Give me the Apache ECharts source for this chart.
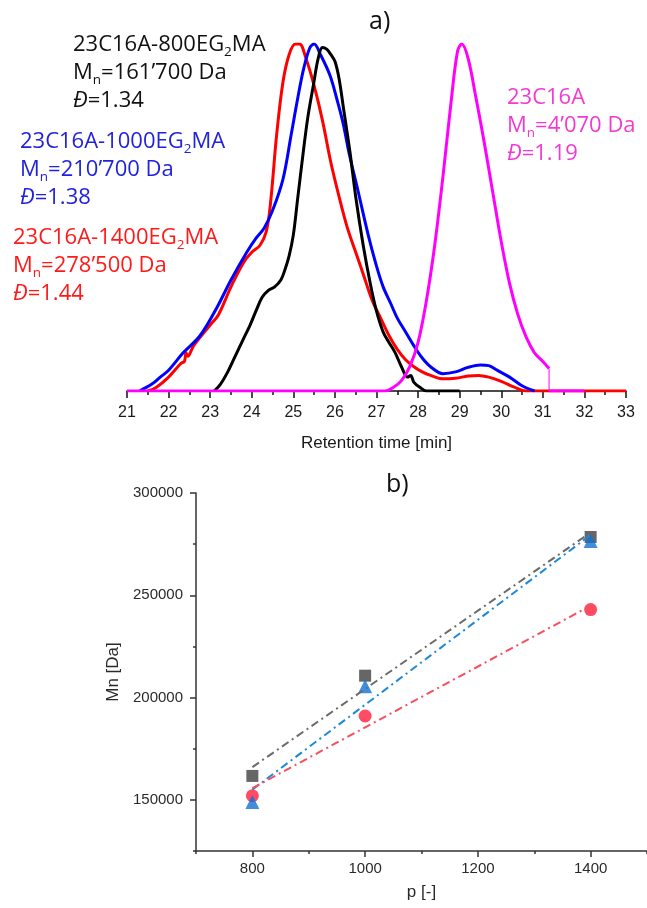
<!DOCTYPE html>
<html>
<head>
<meta charset="utf-8">
<script src="https://cdn.jsdelivr.net/npm/echarts@6/dist/echarts.min.js"></script>
<style>html,body{margin:0;padding:0;background:#fff}#c{width:647px;height:908px}</style>
</head>
<body>
<div id="c"></div>
<script>
// ---- (a) GPC traces: [retention time (min), normalized intensity] ----
const trace800 = [[23.1,0],[23.25,0.02],[23.4,0.05],[23.6,0.10],[23.8,0.15],[23.96,0.19],[24.1,0.23],[24.25,0.27],[24.4,0.29],[24.55,0.30],[24.7,0.32],[24.8,0.35],[24.9,0.39],[25.0,0.45],[25.1,0.55],[25.24,0.69],[25.35,0.79],[25.48,0.88],[25.6,0.96],[25.7,0.99],[25.8,0.985],[25.9,0.97],[26.0,0.95],[26.1,0.90],[26.2,0.82],[26.36,0.69],[26.5,0.56],[26.68,0.42],[26.85,0.31],[27.0,0.23],[27.16,0.17],[27.3,0.14],[27.45,0.11],[27.6,0.07],[27.75,0.04],[27.82,0.045],[27.9,0.025],[28.05,0.01],[28.2,0],[29.0,0]];
const trace1000 = [[21.3,0],[21.6,0.02],[21.8,0.04],[22.0,0.06],[22.35,0.11],[22.76,0.16],[23.16,0.24],[23.5,0.32],[23.88,0.40],[24.1,0.44],[24.3,0.47],[24.5,0.52],[24.75,0.61],[24.95,0.74],[25.1,0.84],[25.25,0.93],[25.4,0.99],[25.5,1.0],[25.65,0.97],[25.88,0.91],[26.05,0.84],[26.2,0.77],[26.35,0.68],[26.53,0.59],[26.8,0.45],[27.0,0.36],[27.16,0.30],[27.35,0.25],[27.5,0.21],[27.7,0.17],[27.9,0.13],[28.1,0.095],[28.3,0.07],[28.6,0.05],[28.9,0.055],[29.2,0.068],[29.5,0.075],[29.7,0.073],[29.9,0.06],[30.2,0.04],[30.5,0.015],[30.8,0]];
const trace1400 = [[21.5,0],[21.7,0.01],[22.0,0.04],[22.3,0.08],[22.38,0.085],[22.42,0.11],[22.46,0.10],[22.6,0.13],[23.0,0.19],[23.2,0.22],[23.5,0.30],[23.8,0.37],[24.0,0.40],[24.2,0.42],[24.35,0.46],[24.45,0.54],[24.6,0.74],[24.75,0.89],[24.9,0.97],[25.05,1.0],[25.15,1.0],[25.3,0.96],[25.5,0.88],[25.7,0.78],[25.9,0.66],[26.1,0.56],[26.3,0.47],[26.5,0.40],[26.7,0.33],[26.9,0.26],[27.1,0.21],[27.3,0.16],[27.5,0.12],[27.7,0.09],[27.9,0.07],[28.1,0.055],[28.3,0.045],[28.6,0.035],[28.9,0.037],[29.2,0.043],[29.45,0.045],[29.7,0.04],[30.0,0.028],[30.3,0.012],[30.6,0],[33.0,0]];
const traceMacro = [[21.0,0],[27.2,0],[27.4,0.01],[27.6,0.03],[27.8,0.07],[28.0,0.14],[28.2,0.26],[28.4,0.42],[28.6,0.62],[28.8,0.84],[28.95,0.98],[29.05,1.0],[29.2,0.96],[29.4,0.84],[29.6,0.71],[29.8,0.57],[30.0,0.43],[30.2,0.31],[30.4,0.22],[30.6,0.155],[30.8,0.11],[31.0,0.085],[31.15,0.065]];
const traceMacroDrop = [[31.15,0.065],[31.15,0]];
const traceMacroTail = [[31.15,0],[32.0,0]];

// ---- (b) Mn vs p ----
const pValues = [800, 1000, 1400];
const mnSquares = [161700, 210700, 278500];
const mnTriangles = [149000, 205500, 276500];
const mnCircles = [152000, 191000, 243000];
const fitSquares = [[800,166000],[1400,280700]];
const fitTriangles = [[800,155000],[1400,279500]];
const fitCircles = [[800,155700],[1400,244900]];
const pTicks = [800, 1000, 1200, 1400];
const mnTicks = [150000, 200000, 250000, 300000];

const pair = (xs, ys) => xs.map((x, i) => [x, ys[i]]);

const ANN = 'Open Sans';
function richFor(color) {
  return {
    t: {fontSize: 22, lineHeight: 28, fontFamily: ANN, fontWeight: 'normal', color: color},
    s: {fontSize: 13.5, lineHeight: 14, fontFamily: ANN, fontWeight: 'normal', color: color, verticalAlign: 'bottom'},
    i: {fontSize: 22, lineHeight: 28, fontFamily: ANN, fontWeight: 'normal', color: color, fontStyle: 'italic'}
  };
}
function ann(left, top, color, l1a, l1b, mn, d) {
  const txt = (l1b !== null ? '{t|' + l1a + '}{s|2}{t|' + l1b + '}' : '{t|' + l1a + '}') +
    '\n{t|M}{s|n}{t|=' + mn + '}\n{i|Đ}{t|=' + d + '}';
  return {left: left, top: top, padding: 0, text: txt,
          textStyle: {fontWeight: 'normal', rich: richFor(color)}};
}

const chart = echarts.init(document.getElementById('c'), null, {renderer: 'canvas'});
const AX = 'Liberation Sans';
const smoothLine = (data, color, width) => ({type: 'line', xAxisIndex: 0, yAxisIndex: 0, data: data, symbol: 'none',
  smooth: 0.35, lineStyle: {color: color, width: width}});
chart.setOption({
  animation: false,
  backgroundColor: '#fff',
  title: [
    ann(73, 31, '#111111', '23C16A-800EG', 'MA', '161’700 Da', '1.34'),
    ann(20, 128, '#2222dd', '23C16A-1000EG', 'MA', '210’700 Da', '1.38'),
    ann(13, 224, '#ff1a1a', '23C16A-1400EG', 'MA', '278’500 Da', '1.44'),
    ann(507, 84, '#f23ad2', '23C16A', null, '4’070 Da', '1.19'),
    {left: 369, top: 9, padding: 0, text: 'a)', textStyle: {fontSize: 25, fontWeight: 'normal', fontFamily: ANN, color: '#111'}},
    {left: 386, top: 472, padding: 0, text: 'b)', textStyle: {fontSize: 25, fontWeight: 'normal', fontFamily: ANN, color: '#111'}}
  ],
  grid: [
    {left: 127, right: 21, top: 44, bottom: 517},
    {left: 196, right: 0, top: 493, bottom: 57}
  ],
  xAxis: [
    {gridIndex: 0, type: 'value', position: 'bottom', min: 21, max: 33, interval: 1,
     axisLine: {show: true, onZero: false, lineStyle: {color: '#111', width: 1.5}},
     axisTick: {show: true, inside: false, length: 7, lineStyle: {color: '#111', width: 1.5}},
     minorTick: {show: true, splitNumber: 2, length: 4, lineStyle: {color: '#111', width: 1.5}},
     splitLine: {show: false},
     axisLabel: {fontSize: 16, fontFamily: AX, color: '#1a1a1a', margin: 14},
     name: 'Retention time [min]', nameLocation: 'middle', nameGap: 44,
     nameTextStyle: {fontSize: 17, fontFamily: AX, color: '#1a1a1a'}},
    {gridIndex: 1, type: 'value', position: 'bottom', min: 700, max: 1500, interval: 100,
     axisLine: {show: true, onZero: false, lineStyle: {color: '#333', width: 1.5}},
     axisTick: {show: true, customValues: pTicks, length: 6, lineStyle: {color: '#333', width: 1.5}},
     axisLabel: {customValues: pTicks, fontSize: 15, fontFamily: AX, color: '#2a2a2a', margin: 10,
                 formatter: v => String(v)},
     splitLine: {show: false},
     name: 'p [-]', nameLocation: 'middle', nameGap: 33,
     nameTextStyle: {fontSize: 17, fontFamily: AX, color: '#2a2a2a'}},
    {gridIndex: 1, type: 'value', position: 'bottom', offset: 0, min: 700, max: 1500, interval: 100,
     axisLine: {show: false, onZero: false}, axisLabel: {show: false}, splitLine: {show: false},
     axisTick: {show: true, length: 3, lineStyle: {color: '#333', width: 1.5}}}
  ],
  yAxis: [
    {gridIndex: 0, type: 'value', min: 0, max: 1, show: false, splitLine: {show: false}},
    {gridIndex: 1, type: 'value', position: 'left', min: 125000, max: 300000, interval: 25000,
     axisLine: {show: true, onZero: false, lineStyle: {color: '#333', width: 1.5}},
     axisTick: {show: true, customValues: mnTicks, length: 6, lineStyle: {color: '#333', width: 1.5}},
     axisLabel: {customValues: mnTicks, fontSize: 15, fontFamily: AX, color: '#2a2a2a', margin: 13,
                 formatter: v => String(v)},
     splitLine: {show: false},
     name: 'Mn [Da]', nameLocation: 'middle', nameGap: 69, nameRotate: 90,
     nameTextStyle: {fontSize: 17, fontFamily: AX, color: '#2a2a2a'}},
    {gridIndex: 1, type: 'value', position: 'left', offset: 0, min: 125000, max: 300000, interval: 25000,
     axisLine: {show: false, onZero: false}, axisLabel: {show: false}, splitLine: {show: false},
     axisTick: {show: true, length: 3, lineStyle: {color: '#333', width: 1.5}}}
  ],
  series: [
    smoothLine(trace1400, '#ff0000', 3),
    smoothLine(trace1000, '#0000ff', 3),
    smoothLine(trace800, '#000000', 3),
    smoothLine(traceMacro, '#ff00ff', 3),
    {type: 'line', xAxisIndex: 0, yAxisIndex: 0, data: traceMacroDrop, symbol: 'none',
     lineStyle: {color: '#ff00ff', width: 1}},
    {type: 'line', xAxisIndex: 0, yAxisIndex: 0, data: traceMacroTail, symbol: 'none',
     lineStyle: {color: '#ff00ff', width: 3}},

    {type: 'line', xAxisIndex: 1, yAxisIndex: 1, data: fitSquares, symbol: 'none',
     lineStyle: {color: '#6a6a6a', width: 2, type: [8, 4, 2, 4]}},
    {type: 'line', xAxisIndex: 1, yAxisIndex: 1, data: fitTriangles, symbol: 'none',
     lineStyle: {color: '#1e88d6', width: 2, type: [8, 4, 2, 4]}},
    {type: 'line', xAxisIndex: 1, yAxisIndex: 1, data: fitCircles, symbol: 'none',
     lineStyle: {color: '#f4505e', width: 2, type: [8, 4, 2, 4]}},
    {type: 'scatter', xAxisIndex: 1, yAxisIndex: 1, data: pair(pValues, mnSquares), symbol: 'rect', symbolSize: 12,
     itemStyle: {color: '#404040'}},
    {type: 'scatter', xAxisIndex: 1, yAxisIndex: 1, data: pair(pValues, mnCircles), symbol: 'circle', symbolSize: 13,
     itemStyle: {color: '#ff1e3c'}},
    {type: 'scatter', xAxisIndex: 1, yAxisIndex: 1, data: pair(pValues, mnTriangles), symbol: 'triangle', symbolSize: 14,
     itemStyle: {color: '#1272d6'}}
  ]
});
</script>
</body>
</html>
